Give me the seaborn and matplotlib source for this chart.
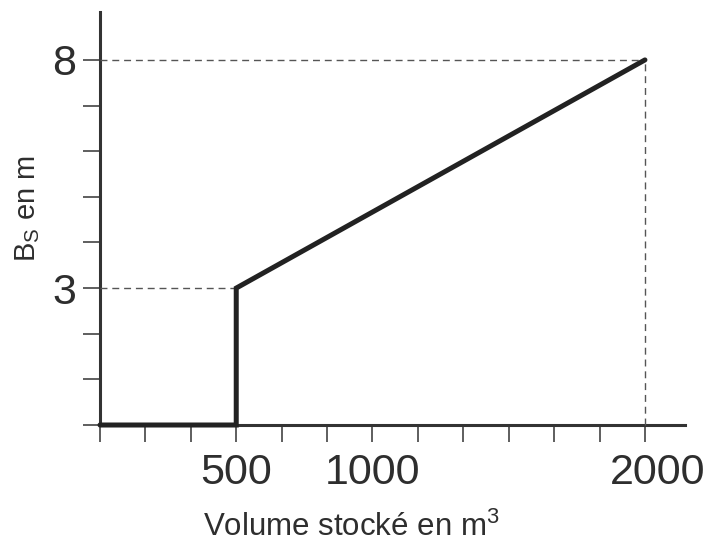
"""Largeur de la bande B_S en fonction du volume stocké."""

import matplotlib

matplotlib.use("Agg")
import matplotlib.pyplot as plt
import matplotlib.transforms as mtransforms
import pandas as pd
import seaborn as sns

# courbe principale
volume_m3 = [0, 500, 500, 2000]
bande_m = [0, 0, 3, 8]

# graduations
x_ticks = [i * 500 / 3 for i in range(13)]
x_tick_labels = ["", "", "", "500", "", "", "1000", "", "", "", "", "", "2000"]
y_ticks = list(range(9))
y_tick_labels = ["", "", "", "3", "", "", "", "", "8"]

TEXT = "#2e2e2e"
LINE = "#222222"
AXIS = "#333333"

sns.set_theme(style="white")
plt.rcParams["font.family"] = ["Liberation Sans", "DejaVu Sans"]
plt.rcParams["mathtext.default"] = "regular"

frame = pd.DataFrame({"volume": volume_m3, "bande": bande_m})

fig = plt.figure(figsize=(7.08, 5.43), dpi=100)
ax = fig.add_axes([100 / 708, 118 / 543, 585 / 708, 413 / 543])

sns.lineplot(
    data=frame, x="volume", y="bande", sort=False, estimator=None,
    color=LINE, linewidth=3.6, ax=ax, clip_on=False, zorder=5,
)
ax.lines[-1].set_solid_joinstyle("miter")

# lignes de rappel
dash = dict(color="#555555", linewidth=1.0, linestyle=(0, (5, 3.5)), clip_on=False, zorder=3)
ax.hlines(bande_m[-1], 0, volume_m3[-1], **dash)
ax.vlines(volume_m3[-1], 0, bande_m[-1], **dash)
ax.hlines(bande_m[2], 0, volume_m3[2], **dash)

ax.set_xlim(0, 2147)
ax.set_ylim(0, 9.05)

ax.set_xticks(x_ticks)
ax.set_xticklabels(x_tick_labels)
ax.set_yticks(y_ticks)
ax.set_yticklabels(y_tick_labels)

for side in ["top", "right"]:
    ax.spines[side].set_visible(False)
for side in ["left", "bottom"]:
    ax.spines[side].set_linewidth(2.2)
    ax.spines[side].set_color(AXIS)

ax.tick_params(axis="both", bottom=True, left=True, direction="out", length=12,
               width=1.1, color=AXIS, labelsize=31, labelcolor=TEXT)
ax.tick_params(axis="x", pad=8)
ax.tick_params(axis="y", pad=5)

# le libellé 2000 est décalé vers la droite
shift = mtransforms.ScaledTranslation(13 / 100, 0, fig.dpi_scale_trans)
lbl = ax.get_xticklabels()[-1]
lbl.set_transform(lbl.get_transform() + shift)

ax.set_xlabel("Volume stocké en m$^3$", fontsize=22.5, color=TEXT)
ax.set_ylabel("B$_S$ en m", fontsize=21, color=TEXT)
ax.xaxis.set_label_coords(0.429, -0.21)
ax.yaxis.set_label_coords(-0.10, 0.525)

fig.savefig("out.png", dpi=100)
